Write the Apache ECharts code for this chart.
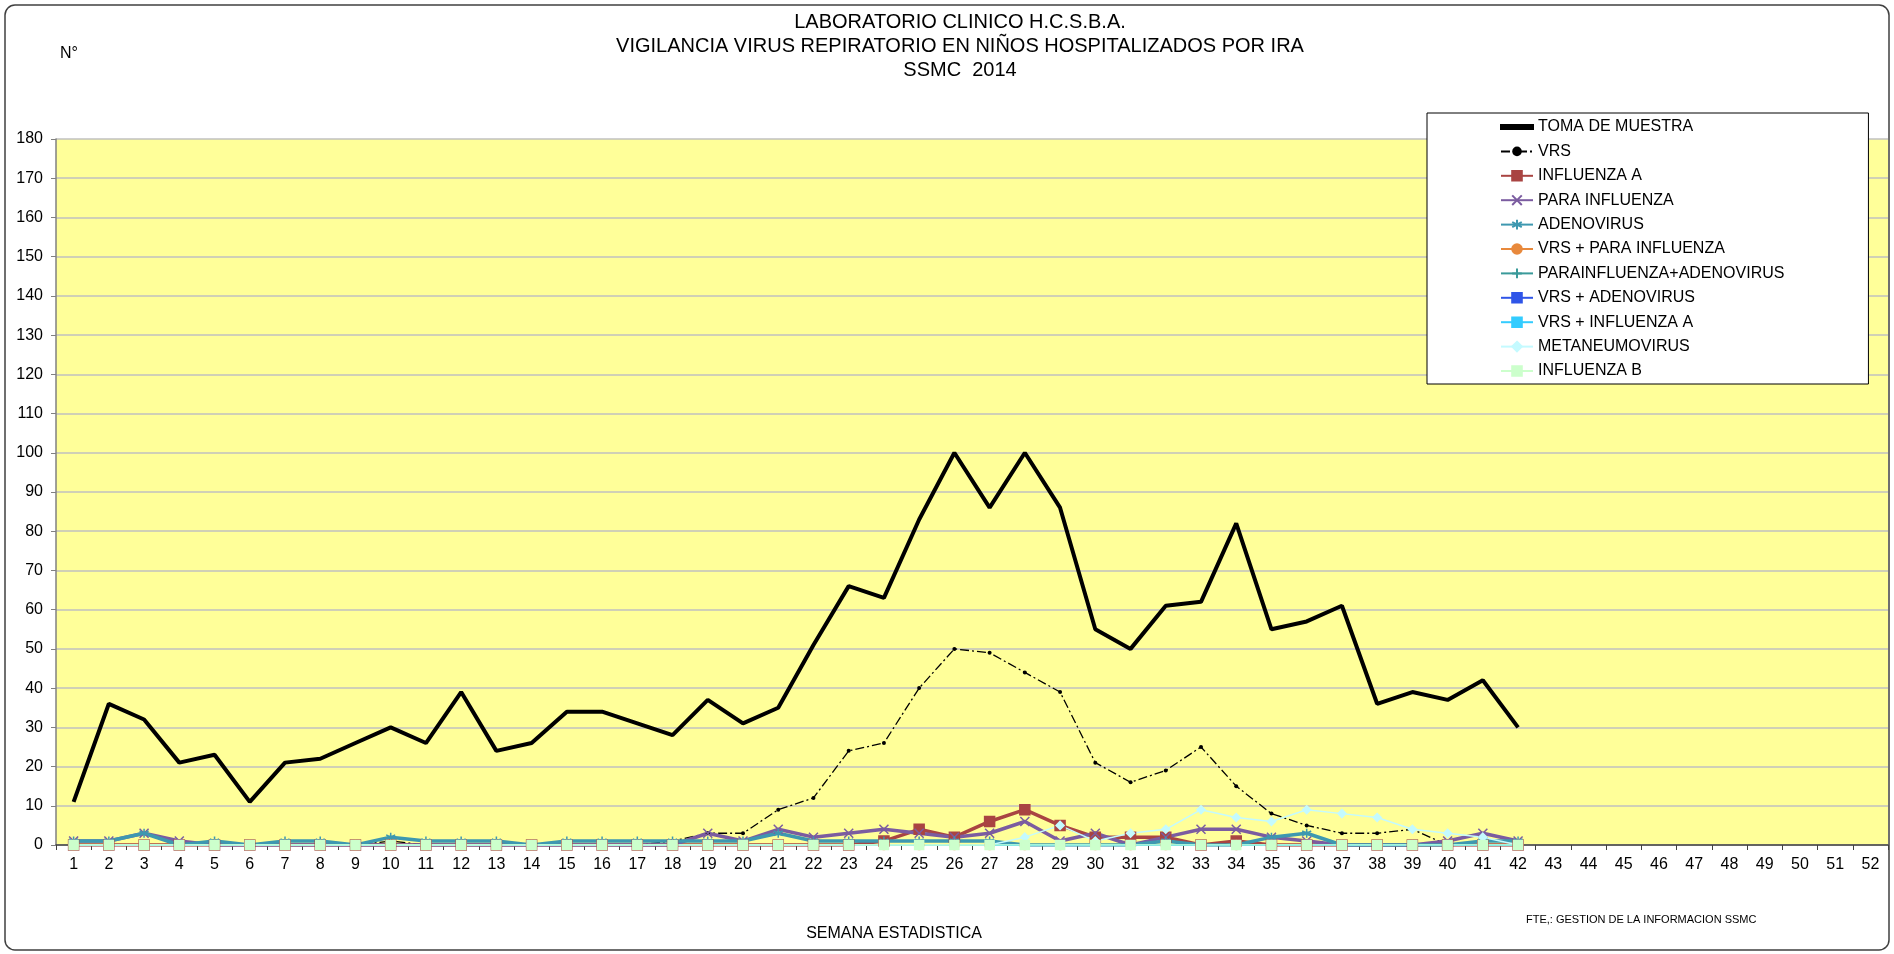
<!DOCTYPE html>
<html>
<head>
<meta charset="utf-8">
<script src="https://cdn.jsdelivr.net/npm/echarts@6/dist/echarts.min.js"></script>
<style>
html,body{margin:0;padding:0;background:#fff;}
#chart{width:1894px;height:954px;}
</style>
</head>
<body>
<div id="chart"></div>
<script>
var weeks = ['1','2','3','4','5','6','7','8','9','10','11','12','13','14','15','16','17','18','19','20','21','22','23','24','25','26','27','28','29','30','31','32','33','34','35','36','37','38','39','40','41','42','43','44','45','46','47','48','49','50','51','52'];
var yTicks = [0,10,20,30,40,50,60,70,80,90,100,110,120,130,140,150,160,170,180];

var tomaMuestra = [11,36,32,21,23,11,21,22,26,30,26,39,24,26,34,34,31,28,37,31,35,51,66,63,83,100,86,100,86,55,50,61,62,82,55,57,61,36,39,37,42,30];
var vrs = [0,0,0,0,0,0,0,0,0,1,0,0,0,0,0,0,0,1,3,3,9,12,24,26,40,50,49,44,39,21,16,19,25,15,8,5,3,3,4,0,0,0];
var influenzaA = [0,0,0,0,0,0,0,0,0,0,0,0,0,0,0,0,0,0,0,0,0,0,0,1,4,2,6,9,5,2,2,2,0,1,0,0,0,0,0,0,0,0];
var paraInfluenza = [1,1,3,1,0,0,0,0,0,0,0,0,0,0,0,0,0,0,3,1,4,2,3,4,3,2,3,6,1,3,0,2,4,4,2,1,0,0,0,1,3,1];
var adenovirus = [1,1,3,0,1,0,1,1,0,2,1,1,1,0,1,1,1,1,1,1,3,1,1,1,1,1,1,0,0,0,0,1,0,0,2,3,0,0,0,0,1,1];
var vrsParaInfluenza = [0,0,0,0,0,0,0,0,0,0,0,0,0,0,0,0,0,0,0,0,0,0,0,0,0,0,0,0,0,0,0,0,0,0,0,0,0,0,0,0,0,0];
var paraInfluenzaAdeno = [0,0,0,0,0,0,0,0,0,0,0,0,0,0,0,0,0,0,0,0,0,0,0,0,0,0,0,0,0,0,0,0,0,0,0,0,0,0,0,0,0,0];
var vrsAdenovirus = [0,0,0,0,0,0,0,0,0,0,0,0,0,0,0,0,0,0,0,0,0,0,0,0,0,0,0,0,0,0,0,0,0,0,0,0,0,0,0,0,0,0];
var vrsInfluenzaA = [0,0,0,0,0,0,0,0,0,0,0,0,0,0,0,0,0,0,0,0,0,0,0,0,0,0,0,0,0,0,0,0,0,0,0,0,0,0,0,0,0,0];
var metaneumovirus = [0,0,0,0,0,0,0,0,0,0,0,0,0,0,0,0,0,0,0,0,0,0,0,0,0,0,0,2,5,1,3,4,9,7,6,9,8,7,4,3,2,0];
var influenzaB = [0,0,0,0,0,0,0,0,0,0,0,0,0,0,0,0,0,0,0,0,0,0,0,0,0,0,0,0,0,0,0,0,0,0,0,0,0,0,0,0,0,0];

var FONT = 'Liberation Sans, Arial, sans-serif';
var SYM_X = 'path://M0,0L10,10M10,0L0,10';
var SYM_AST = 'path://M5,0L5,10M0,2.5L10,7.5M0,7.5L10,2.5';
var SYM_PLUS = 'path://M5,0L5,10M0,5L10,5';

function mk(name, data, color, width, symbol, size) {
  return {
    name: name, type: 'line', data: data, animation: false,
    symbol: symbol, symbolSize: size, showSymbol: true,
    lineStyle: {color: color, width: width},
    itemStyle: {color: color, borderColor: color, borderWidth: 1.5}
  };
}

var series = [
  mk('TOMA DE MUESTRA', tomaMuestra, '#000000', 4, 'none', 0),
  {name:'VRS', type:'line', data: vrs, animation:false, symbol:'circle', symbolSize:4,
   lineStyle:{color:'#000', width:1.3, type:[9,3,2,3]}, itemStyle:{color:'#000'}},
  mk('INFLUENZA A', influenzaA, '#A94442', 3.5, 'rect', 10),
  mk('PARA INFLUENZA', paraInfluenza, '#7B5CA0', 3.5, SYM_X, 9),
  mk('ADENOVIRUS', adenovirus, '#3E98B0', 3.5, SYM_AST, 9),
  mk('VRS + PARA INFLUENZA', vrsParaInfluenza, '#E8893C', 2, 'circle', 9),
  mk('PARAINFLUENZA+ADENOVIRUS', paraInfluenzaAdeno, '#3A9A9A', 1.5, SYM_PLUS, 8),
  mk('VRS + ADENOVIRUS', vrsAdenovirus, '#2F55E8', 2, 'rect', 4),
  mk('VRS + INFLUENZA A', vrsInfluenzaA, '#33CCFF', 2, 'rect', 4),
  mk('METANEUMOVIRUS', metaneumovirus, '#C4FAFF', 1.5, 'diamond', 8),
  mk('INFLUENZA B', influenzaB, '#CCFFCC', 1.5, 'rect', 9)
];
series[3].itemStyle.color = 'none';
series[4].itemStyle.color = 'none';
series[6].itemStyle.color = 'none';

var legendData = series.map(function(s, i){
  if (i === 0) return {name: s.name, icon: 'path://M0,0L32,0L32,4L0,4Z', itemStyle: {color: '#000'}};
  return {name: s.name};
});

var chart = echarts.init(document.getElementById('chart'), null, {renderer:'canvas'});
chart.setOption({
  animation: false,
  backgroundColor: '#ffffff',
  textStyle: {fontFamily: FONT},
  grid: {left: 56, right: 6, top: 139, bottom: 109, show: true, backgroundColor: '#FFFF99', borderWidth: 0},
  xAxis: {
    type: 'category', data: weeks, boundaryGap: true,
    axisLine: {lineStyle: {color: '#404040', width: 1.5}},
    axisTick: {show: true, interval: 0, length: 5, lineStyle: {color: '#404040'}},
    axisLabel: {interval: 0, fontSize: 16, color: '#000', margin: 12, fontFamily: FONT},
    splitLine: {show: false}
  },
  yAxis: {
    type: 'value', min: yTicks[0], max: yTicks[yTicks.length-1], interval: 10,
    axisLine: {show: true, lineStyle: {color: '#808080', width: 1.5}},
    axisTick: {show: true, length: 5, lineStyle: {color: '#808080'}},
    axisLabel: {fontSize: 16, color: '#000', margin: 13, fontFamily: FONT},
    splitLine: {show: true, lineStyle: {color: '#C0C0C0', width: 1.5}}
  },
  legend: {
    orient: 'vertical', left: 1427, top: 113,
    padding: [6, 84, 5, 73],
    backgroundColor: '#ffffff', borderColor: '#000', borderWidth: 1,
    itemWidth: 32, itemHeight: 12, itemGap: 8.4,
    textStyle: {fontSize: 16, color: '#000', fontFamily: FONT, lineHeight: 16},
    data: legendData,
    z: 10
  },
  graphic: [
    {type:'rect', shape:{x:5, y:5, width:1884, height:945, r:10}, style:{fill:'none', stroke:'#404040', lineWidth:1.5}, z:100, silent:true},
    {type:'text', x:960, y:22, style:{text:'LABORATORIO CLINICO H.C.S.B.A.', font:'20px '+FONT, textAlign:'center', textVerticalAlign:'middle', fill:'#000'}},
    {type:'text', x:960, y:46, style:{text:'VIGILANCIA VIRUS REPIRATORIO EN NIÑOS HOSPITALIZADOS POR IRA', font:'20px '+FONT, textAlign:'center', textVerticalAlign:'middle', fill:'#000'}},
    {type:'text', x:960, y:70, style:{text:'SSMC  2014', font:'20px '+FONT, textAlign:'center', textVerticalAlign:'middle', fill:'#000'}},
    {type:'text', x:60, y:54, style:{text:'N°', font:'16px '+FONT, textAlign:'left', textVerticalAlign:'middle', fill:'#000'}},
    {type:'text', x:894, y:934, style:{text:'SEMANA ESTADISTICA', font:'16px '+FONT, textAlign:'center', textVerticalAlign:'middle', fill:'#000'}},
    {type:'text', x:1526, y:920, style:{text:'FTE,: GESTION DE LA INFORMACION SSMC', font:'11px '+FONT, textAlign:'left', textVerticalAlign:'middle', fill:'#000'}}
  ],
  series: series
});
</script>
</body>
</html>
